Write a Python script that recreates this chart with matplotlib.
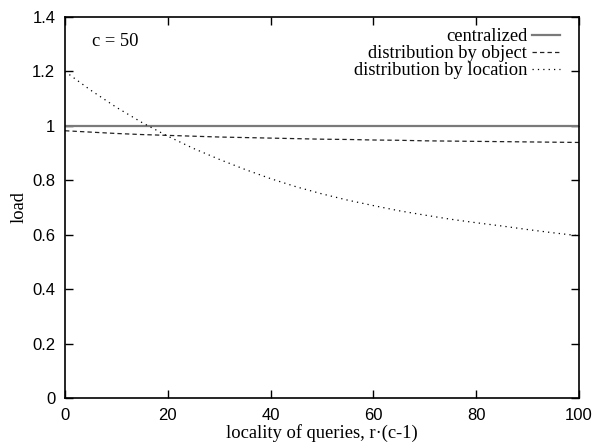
import numpy as np
import matplotlib
matplotlib.use("Agg")
import matplotlib.pyplot as plt

# locality of queries r*(c-1)
x = [0, 5, 10, 15, 20, 25, 30, 35, 40, 45, 50, 55, 60, 65, 70, 75, 80, 85, 90, 95, 100]

centralized = [1.0] * len(x)
by_object = [0.982, 0.977, 0.972, 0.968, 0.965, 0.962, 0.959, 0.957, 0.955, 0.953, 0.951,
             0.950, 0.948, 0.947, 0.945, 0.944, 0.943, 0.942, 0.941, 0.940, 0.939]
by_location = [1.200, 1.131, 1.068, 1.012, 0.962, 0.917, 0.877, 0.840, 0.806, 0.776, 0.750,
               0.727, 0.707, 0.688, 0.672, 0.657, 0.644, 0.632, 0.619, 0.607, 0.596]

W, H = 600, 447
fig = plt.figure(figsize=(W / 100, H / 100), dpi=100)
fig.subplots_adjust(left=65 / W, right=579 / W, bottom=1 - 398 / H, top=1 - 17 / H)
ax = fig.add_subplot(111)

ax.plot(x, centralized, '-', color='#7a7a7a', lw=1.6, label='centralized')
ax.plot(x, by_object, '--', color='#222222', lw=0.9, dashes=(3.5, 2.5), label='distribution by object')
ax.plot(x, by_location, ':', color='black', lw=0.9, dashes=(1, 3.3), label='distribution by location')

ax.set_xlim(0, 100)
ax.set_ylim(0, 1.4)
ax.set_xticks([0, 20, 40, 60, 80, 100])
ax.set_yticks([0, 0.2, 0.4, 0.6, 0.8, 1.0, 1.2, 1.4])
ax.set_yticklabels(['0', '0.2', '0.4', '0.6', '0.8', '1', '1.2', '1.4'])
ax.tick_params(direction='in', length=5.5, width=1, top=True, right=True, labelsize=12, pad=7)
for lab in ax.get_xticklabels() + ax.get_yticklabels():
    lab.set_family('Liberation Sans')
for sp in ax.spines.values():
    sp.set_linewidth(1.2)

ax.set_xlabel('locality of queries, r\u00b7(c-1)', family='Liberation Serif', fontsize=13.3, labelpad=1)
ax.set_ylabel('load', family='Liberation Serif', fontsize=13.3, labelpad=3)

ax.text(5.3, 1.31, 'c = 50', family='Liberation Serif', fontsize=13.3, va='center', ha='left')

leg = ax.legend(loc='upper right', bbox_to_anchor=(560 / W, 1 - 28 / H), bbox_transform=fig.transFigure,
                frameon=False, markerfirst=False, handlelength=1.5, handletextpad=0.28,
                labelspacing=0.0, borderaxespad=0, borderpad=0,
                prop={'family': 'Liberation Serif', 'size': 13.3})
for t in leg.get_texts():
    t.set_ha('right')
leg._legend_box.align = 'right'

fig.savefig('out.png', dpi=100)
